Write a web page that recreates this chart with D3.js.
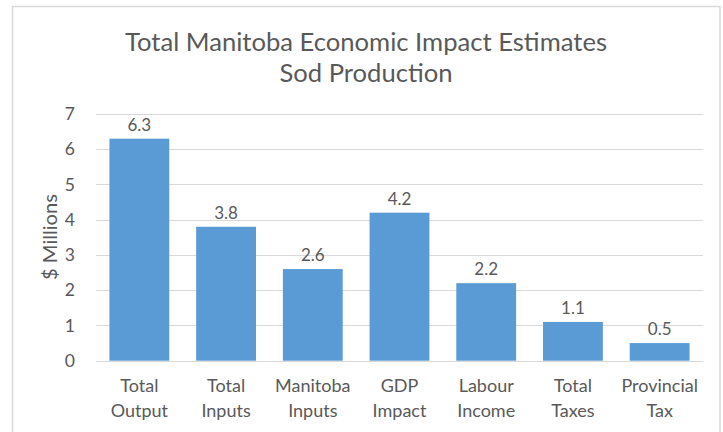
<!DOCTYPE html>
<html>
<head>
<meta charset="utf-8">
<script src="https://cdn.jsdelivr.net/npm/d3@7"></script>
<style>
  html, body { margin: 0; padding: 0; background: #fff; }
  svg { display: block; }
  text { font-family: Lato, "Open Sans", sans-serif; fill: #595959; }
</style>
</head>
<body>
<svg id="chart" width="723" height="432"></svg>
<script>
const categories = [
  ["Total", "Output"],
  ["Total", "Inputs"],
  ["Manitoba", "Inputs"],
  ["GDP", "Impact"],
  ["Labour", "Income"],
  ["Total", "Taxes"],
  ["Provincial", "Tax"]
];
const values = [6.3, 3.8, 2.6, 4.2, 2.2, 1.1, 0.5];
const yTicks = [0, 1, 2, 3, 4, 5, 6, 7];
const titleLines = ["Total Manitoba Economic Impact Estimates", "Sod Production"];
const yAxisTitle = "$ Millions";

const svg = d3.select("#chart");
const margin = { left: 96, top: 114 };
const plotW = 703 - margin.left;
const plotH = 360.7 - margin.top;

function fit(sel, baseSize, targetWidth) {
  const w = sel.node().getComputedTextLength();
  return baseSize * targetWidth / w;
}

// chart border
svg.append("rect")
  .attr("x", 12.5).attr("y", 6.5)
  .attr("width", 720 - 12.5).attr("height", 440)
  .attr("fill", "none").attr("stroke", "#d9d9d9").attr("stroke-width", 1.5);

const g = svg.append("g").attr("transform", `translate(${margin.left},${margin.top})`);

const x = d3.scaleBand()
  .domain(categories.map((d, i) => i))
  .range([0, plotW])
  .paddingInner(0.31)
  .paddingOuter(0.155);

const y = d3.scaleLinear().domain([0, 7]).range([plotH, 0]);

// gridlines
g.append("g")
  .selectAll("line")
  .data(yTicks)
  .join("line")
  .attr("x1", 0).attr("x2", plotW)
  .attr("y1", d => Math.round(y(d)) + 0.5).attr("y2", d => Math.round(y(d)) + 0.5)
  .attr("stroke", "#d9d9d9").attr("stroke-width", 1.2);

// y axis labels
const yAxis = d3.axisLeft(y).tickValues(yTicks).tickSize(0).tickPadding(21).tickFormat(d3.format("d"));
const ya = g.append("g").call(yAxis);
ya.select(".domain").remove();
ya.selectAll("text")
  .style("font-family", "Lato, 'Open Sans', sans-serif")
  .style("font-size", "17.5px").style("fill", "#595959");

// bars
g.selectAll("rect.bar")
  .data(values)
  .join("rect")
  .attr("class", "bar")
  .attr("x", (d, i) => x(i))
  .attr("width", x.bandwidth())
  .attr("y", d => y(d))
  .attr("height", d => plotH - y(d))
  .attr("fill", "#5b9bd5");

// value labels
g.selectAll("text.val")
  .data(values)
  .join("text")
  .attr("class", "val")
  .attr("x", (d, i) => x(i) + x.bandwidth() / 2)
  .attr("y", d => y(d) - 8)
  .attr("text-anchor", "middle")
  .style("font-size", "17px")
  .text(d => d3.format(".1f")(d));

// x axis labels
const xAxis = d3.axisBottom(x).tickSize(0).tickFormat(() => "");
const xa = g.append("g").attr("transform", `translate(0,${plotH})`).call(xAxis);
xa.select(".domain").remove();
xa.selectAll(".tick").each(function(d) {
  const t = d3.select(this).append("text")
    .attr("text-anchor", "middle")
    .style("font-size", "18px")
    .style("fill", "#595959");
  categories[d].forEach((line, k) => {
    t.append("tspan").attr("x", 0).attr("y", 31 + k * 25).text(line);
  });
});

// y axis title
const yt = svg.append("text")
  .attr("transform", `translate(57,237) rotate(-90)`)
  .attr("text-anchor", "middle")
  .style("font-size", "16px")
  .text(yAxisTitle);
yt.style("font-size", fit(yt, 16, 86).toFixed(2) + "px");

// title
const title = svg.append("text")
  .attr("text-anchor", "middle")
  .style("font-size", "22px");
titleLines.forEach((line, k) => {
  title.append("tspan").attr("x", 366).attr("y", 51 + k * 31).text(line);
});
title.style("font-size", fit(title.select("tspan"), 22, 482).toFixed(2) + "px");
</script>
</body>
</html>
